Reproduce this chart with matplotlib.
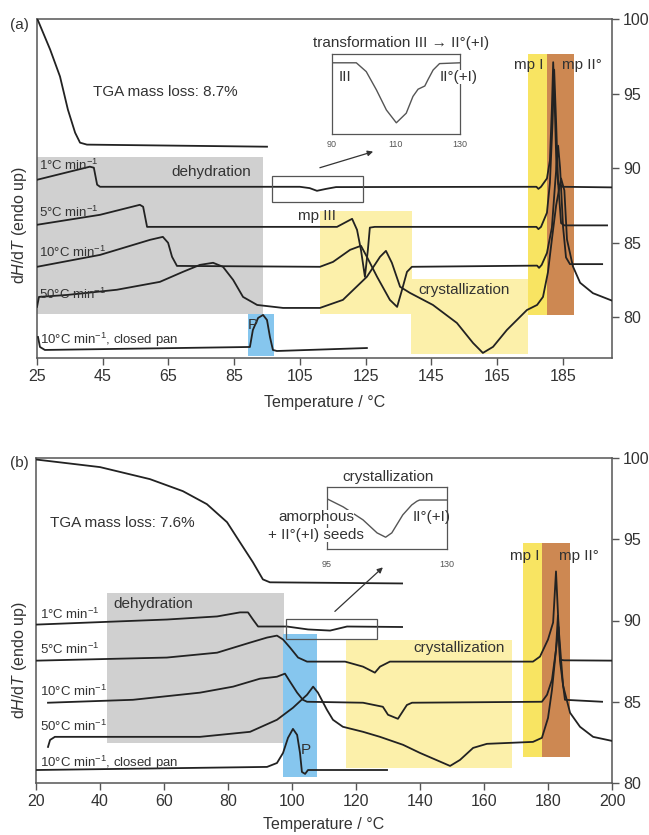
import matplotlib
matplotlib.use("Agg")
import matplotlib.pyplot as plt
from matplotlib.patches import Rectangle

plt.rcParams["font.family"] = ["Liberation Sans", "DejaVu Sans"]
plt.rcParams["mathtext.fontset"] = "custom"
plt.rcParams["mathtext.rm"] = "Liberation Sans"
plt.rcParams["mathtext.it"] = "Liberation Sans:italic"
plt.rcParams["mathtext.bf"] = "Liberation Sans:bold"

# ---- (a) TGA and DSC traces
tga_a_T = [25.0, 25.3, 29.0, 32.0, 34.4, 36.6, 38.1, 40.2, 95.0]
tga_a_y = [100.0, 99.9, 97.95, 96.14, 93.92, 92.37, 91.7, 91.57, 91.43]

dsc1_a_T = [25.0, 41.1, 42.3, 43.3, 44.2, 105.0, 108.0, 110.2, 113.0, 116.0, 177.0, 177.6,
            178.4, 180.2, 181.1, 181.7, 182.1, 182.6, 183.1, 183.7, 185.0, 200.0]
dsc1_a_y = [89.21, 90.09, 90.02, 88.88, 88.74, 88.74, 88.65, 88.47, 88.6, 88.72, 88.74, 88.6,
            88.74, 89.3, 90.5, 94.0, 97.1, 94.0, 90.0, 88.9, 88.74, 88.7]

dsc5_a_T = [25.0, 44.2, 56.3, 57.3, 58.5, 116.3, 119.7, 120.9, 122.4, 123.6, 124.8, 125.7,
            126.3, 127.8, 177.0, 177.6, 178.4, 180.2, 181.1, 181.9, 182.4, 183.0, 183.6,
            184.5, 185.5, 198.5]
dsc5_a_y = [86.19, 86.86, 87.53, 87.4, 86.05, 86.05, 86.45, 86.59, 85.85, 84.5, 82.7, 84.5,
            86.0, 86.05, 86.05, 85.9, 86.05, 87.0, 89.0, 93.0, 96.6, 93.0, 89.0,
            86.3, 86.15, 86.15]

dsc10_a_T = [25.0, 44.2, 59.4, 63.3, 64.9, 66.1, 67.6, 111.1, 115.1, 120.3, 123.6, 125.4,
             128.5, 132.4, 134.6, 136.1, 137.6, 139.1, 177.2, 177.8, 178.6, 180.2, 181.7,
             182.7, 183.6, 184.2, 185.1, 186.0, 187.2, 197.0]
dsc10_a_y = [83.37, 84.17, 85.18, 85.38, 84.98, 84.04, 83.43, 83.37, 83.70, 84.51, 84.78, 84.04,
             82.70, 81.15, 80.68, 81.83, 83.03, 83.37, 83.45, 83.3, 83.5, 84.3, 86.0,
             89.0, 91.5, 90.0, 86.05, 84.0, 83.55, 83.55]

dsc50_a_T = [25.0, 25.6, 34.1, 49.3, 62.4, 69.4, 74.6, 78.6, 81.6, 84.7, 87.7, 92.0, 99.9,
             111.1, 118.1, 125.4, 129.4, 131.2, 133.0, 135.5, 138.5, 145.5, 152.8, 157.7,
             160.7, 163.8, 168.0, 174.1, 177.2, 179.0, 180.5, 181.7, 183.0, 184.5, 185.5,
             186.3, 188.1, 190.3, 194.2, 200.0]
dsc50_a_y = [80.68, 81.35, 81.48, 81.83, 82.36, 83.03, 83.50, 83.64, 83.37, 82.49, 81.35, 80.81,
             80.61, 80.61, 81.15, 82.70, 84.04, 84.44, 83.64, 82.03, 81.62, 80.81, 79.60,
             78.26, 77.59, 78.0, 79.13, 80.47, 80.81, 81.35, 83.0, 85.2, 87.5, 89.3, 88.5,
             85.2, 83.4, 82.3, 81.6, 81.1]

pan_a_T = [25.3, 25.9, 27.4, 89.8, 90.7, 92.3, 93.8, 95.0, 95.9, 96.8, 98.0, 125.4]
pan_a_y = [78.66, 77.99, 77.79, 77.99, 79.13, 79.94, 80.14, 79.8, 78.66, 77.79, 77.72, 77.92]

ins_a_T = [90, 97.6, 100.7, 103.9, 107.0, 110.1, 113.2, 115.3, 116.9, 119.0, 120.0, 121.6,
           123.6, 130]
ins_a_y = [0.89, 0.89, 0.78, 0.55, 0.30, 0.14, 0.26, 0.47, 0.56, 0.60, 0.68, 0.80, 0.88, 0.89]

# shaded regions: T0, T1, y0, y1, colour
regions_a = [
    (25.0, 93.8, 80.2, 90.75, "#d0d0d0"),
    (89.2, 97.1, 77.4, 80.2, "#86c6ee"),
    (111.1, 139.1, 80.2, 87.13, "#fcf0aa"),
    (138.8, 174.4, 77.5, 82.56, "#fcf0aa"),
    (174.4, 180.2, 80.14, 97.68, "#f8e462"),
    (180.2, 188.4, 80.14, 97.68, "#cd8852"),
]

# ---- (b) TGA and DSC traces
tga_b_T = [20.3, 40.0, 55.6, 65.9, 73.4, 79.7, 83.75, 87.8, 90.9, 93.1, 134.4]
tga_b_y = [99.9, 99.44, 98.70, 97.96, 97.16, 96.05, 94.81, 93.58, 92.53, 92.35, 92.28]

dsc1_b_T = [20.3, 60.9, 76.6, 83.75, 86.25, 87.8, 89.4, 92.2, 98.4, 105.0, 111.9, 117.2, 134.4]
dsc1_b_y = [89.75, 90.06, 90.25, 90.5, 90.5, 90.06, 89.63, 89.63, 89.63, 89.45, 89.38, 89.63, 89.6]

dsc5_b_T = [20.3, 60.9, 76.6, 86.9, 92.2, 95.3, 97.2, 99.4, 101.9, 104.7, 116.6, 122.2, 125.9,
            127.5, 130.6, 175.3, 177.5, 180.0, 181.6, 182.5, 183.1, 183.75, 185.0, 200.0]
dsc5_b_y = [87.53, 87.72, 88.02, 88.64, 88.95, 89.07, 88.83, 88.33, 87.72, 87.47, 87.47, 87.16,
            86.79, 87.16, 87.47, 87.47, 87.78, 88.83, 89.88, 93.02, 90.5, 87.59, 87.55, 87.53]

dsc10_b_T = [23.75, 50.3, 71.25, 81.6, 90.0, 95.3, 97.8, 99.4, 101.6, 103.4, 104.7, 122.2,
             128.4, 130.0, 133.1, 135.9, 137.5, 178.1, 179.7, 181.25, 182.5, 183.1, 183.75,
             185.3, 196.9]
dsc10_b_y = [84.94, 85.12, 85.56, 85.93, 86.42, 86.54, 86.73, 86.23, 85.56, 85.12, 85.0, 84.94,
             84.69, 84.2, 83.95, 84.8, 84.94, 85.0, 85.43, 86.36, 88.21, 90.3, 87.5,
             85.12, 85.0]

dsc50_b_T = [23.75, 24.4, 25.9, 29.7, 71.25, 86.9, 95.3, 100.3, 104.7, 106.6, 108.1, 110.9,
             112.8, 115.9, 122.2, 127.5, 134.7, 140.0, 149.4, 152.5, 156.6, 160.9, 175.3,
             178.1, 180.0, 181.25, 182.5, 183.3, 184.7, 186.9, 190.0, 194.1, 200.0]
dsc50_b_y = [82.22, 82.65, 82.84, 82.84, 82.84, 83.15, 83.89, 84.63, 85.43, 85.93, 85.56, 84.51,
             83.89, 83.46, 83.15, 82.84, 82.35, 81.85, 81.05, 81.42, 82.16, 82.41, 82.53,
             82.78, 84.0, 85.74, 88.21, 89.6, 86.0, 84.32, 83.46, 82.84, 82.59]

pan_b_T = [20.3, 92.2, 95.3, 97.2, 98.75, 100.3, 101.6, 102.5, 103.1, 104.1, 105.0, 129.7]
pan_b_y = [80.8, 80.99, 81.23, 81.85, 82.78, 83.33, 82.96, 81.85, 80.68, 80.56, 80.8, 80.8]

ins_b_T = [95, 99.7, 105.5, 109.6, 112.1, 113.9, 117.1, 119.7, 121.2, 122, 130]
ins_b_y = [0.81, 0.68, 0.47, 0.26, 0.19, 0.26, 0.55, 0.71, 0.77, 0.79, 0.79]

regions_b = [
    (42.2, 97.5, 82.47, 91.67, "#d0d0d0"),
    (97.2, 107.8, 80.37, 89.14, "#86c6ee"),
    (116.9, 168.75, 80.93, 88.83, "#fcf0aa"),
    (172.2, 178.1, 81.6, 94.75, "#f8e462"),
    (178.1, 186.9, 81.6, 94.75, "#cd8852"),
]

y_ticks = [80, 85, 90, 95, 100]
x_ticks_a = [25, 45, 65, 85, 105, 125, 145, 165, 185]
x_ticks_b = [20, 40, 60, 80, 100, 120, 140, 160, 180, 200]

line_col = "#222222"
spine_col = "#555555"
rate_1 = "1°C min$^{-1}$"
rate_5 = "5°C min$^{-1}$"
rate_10 = "10°C min$^{-1}$"
rate_50 = "50°C min$^{-1}$"
rate_pan = "10°C min$^{-1}$, closed pan"

fig = plt.figure(figsize=(6.49, 8.35), dpi=100)


def setup_main(ax, xlim, ylim, xticks):
    ax.set_xlim(*xlim)
    ax.set_ylim(*ylim)
    ax.set_xticks(xticks)
    ax.set_yticks(y_ticks)
    ax.tick_params(axis="y", left=False, labelleft=False, right=True, labelright=True)
    ax.tick_params(direction="out", length=5, width=1.0, color=spine_col,
                   labelsize=11.5, labelcolor="#333333", pad=3)
    for s in ax.spines.values():
        s.set_color(spine_col)
        s.set_linewidth(1.1)


def draw_regions(ax, regions):
    for x0, x1, y0, y1, c in regions:
        ax.add_patch(Rectangle((x0, y0), x1 - x0, y1 - y0, facecolor=c,
                               edgecolor="none", zorder=0))


def draw_inset(rect, T, y, xlim, xticks):
    ia = fig.add_axes(rect)
    ia.plot(T, y, color="#555555", lw=1.0)
    ia.set_xlim(*xlim)
    ia.set_ylim(0, 1)
    ia.set_yticks([])
    ia.set_xticks(xticks)
    ia.tick_params(axis="x", length=0, labelsize=6.5, labelcolor="#555555", pad=5)
    for s in ia.spines.values():
        s.set_color("#555555")
        s.set_linewidth(0.9)
    return ia


txt = dict(color="#333333", fontsize=11)
small = dict(color="#333333", fontsize=9.5)

# ---------------- panel (a)
ax = fig.add_axes([37 / 649, 1 - 358 / 835, 575 / 649, 339 / 835])
setup_main(ax, (25, 200), (77.25, 100), x_ticks_a)
draw_regions(ax, regions_a)
for T, y in [(tga_a_T, tga_a_y), (dsc1_a_T, dsc1_a_y), (dsc5_a_T, dsc5_a_y),
             (dsc10_a_T, dsc10_a_y), (dsc50_a_T, dsc50_a_y), (pan_a_T, pan_a_y)]:
    ax.plot(T, y, color=line_col, lw=1.3, zorder=3)

ax.add_patch(Rectangle((96.5, 87.7), 124.2 - 96.5, 89.46 - 87.7, fill=False,
                       edgecolor="#555555", lw=0.9, zorder=4))
ax.annotate("", xy=(127.3, 91.1), xytext=(111.1, 90.02),
            arrowprops=dict(arrowstyle="-|>", color="#333333", lw=0.9,
                            mutation_scale=8, shrinkA=0, shrinkB=0))

ax.text(42.0, 95.13, "TGA mass loss: 8.7%", va="center", **txt)
ax.text(25.6, 90.2, rate_1, va="center", **small)
ax.text(78.0, 89.75, "dehydration", ha="center", va="center", **txt)
ax.text(25.6, 87.0, rate_5, va="center", **small)
ax.text(25.6, 84.37, rate_10, va="center", **small)
ax.text(25.6, 81.5, rate_50, va="center", **small)
ax.text(25.9, 78.46, rate_pan, va="center", **small)
ax.text(90.7, 79.47, "P", ha="center", va="center", **txt)
ax.text(110.1, 86.8, "mp III", ha="center", va="center", **txt)
ax.text(155.0, 81.83, "crystallization", ha="center", va="center", **txt)
ax.text(179.0, 96.94, "mp I", ha="right", va="center", **txt)
ax.text(184.8, 96.94, "mp II°", ha="left", va="center", **txt)
ax.set_xlabel("Temperature / °C", fontsize=11.5, color="#333333")
ax.xaxis.set_label_coords(0.5, -0.11)

ia = draw_inset([332 / 649, 1 - 134 / 835, 128 / 649, 80 / 835], ins_a_T, ins_a_y,
                (90, 130), [90, 110, 130])
ia.tick_params(axis="x", pad=4)
ia.text(0.54, 1.14, "transformation III → II°(+I)", transform=ia.transAxes,
        ha="center", va="center", **txt)
ia.text(0.05, 0.71, "III", transform=ia.transAxes, va="center", **txt)
ia.text(0.84, 0.71, "II°(+I)", transform=ia.transAxes, va="center", zorder=5,
        bbox=dict(facecolor="white", edgecolor="none", pad=0), **txt)

fig.text(0.015, 1 - 25 / 835, "(a)", va="center", **txt)
fig.text(20 / 649, 1 - 225 / 835, r"d$\it{H}$/d$\it{T}$ (endo up)", rotation=90,
         ha="center", va="center", color="#333333", fontsize=11.5)

# ---------------- panel (b)
bx = fig.add_axes([36 / 649, 1 - 783 / 835, 576 / 649, 325 / 835])
setup_main(bx, (20, 200), (80, 100), x_ticks_b)
draw_regions(bx, regions_b)
for T, y in [(tga_b_T, tga_b_y), (dsc1_b_T, dsc1_b_y), (dsc5_b_T, dsc5_b_y),
             (dsc10_b_T, dsc10_b_y), (dsc50_b_T, dsc50_b_y), (pan_b_T, pan_b_y)]:
    bx.plot(T, y, color=line_col, lw=1.3, zorder=3)

bx.add_patch(Rectangle((98.1, 88.89), 126.6 - 98.1, 90.12 - 88.89, fill=False,
                       edgecolor="#555555", lw=0.9, zorder=4))
bx.annotate("", xy=(128.4, 93.27), xytext=(113.4, 90.56),
            arrowprops=dict(arrowstyle="-|>", color="#333333", lw=0.9,
                            mutation_scale=8, shrinkA=0, shrinkB=0))

bx.text(24.4, 95.99, "TGA mass loss: 7.6%", va="center", **txt)
bx.text(21.25, 90.37, rate_1, va="center", **small)
bx.text(44.1, 90.99, "dehydration", va="center", **txt)
bx.text(21.25, 88.21, rate_5, va="center", **small)
bx.text(21.25, 85.62, rate_10, va="center", **small)
bx.text(21.25, 83.46, rate_50, va="center", **small)
bx.text(21.25, 81.23, rate_pan, va="center", **small)
bx.text(104.4, 82.04, "P", ha="center", va="center", **txt)
bx.text(152.3, 88.33, "crystallization", ha="center", va="center", **txt)
bx.text(177.5, 93.95, "mp I", ha="right", va="center", **txt)
bx.text(183.4, 93.95, "mp II°", ha="left", va="center", **txt)
bx.set_xlabel("Temperature / °C", fontsize=11.5, color="#333333")
bx.xaxis.set_label_coords(0.5, -0.105)

ib = draw_inset([327 / 649, 1 - 549 / 835, 120 / 649, 62 / 835], ins_b_T, ins_b_y,
                (95, 130), [95, 130])
ib.tick_params(axis="x", pad=8)
ib.text(0.51, 1.16, "crystallization", transform=ib.transAxes,
        ha="center", va="center", **txt)
ib.text(-0.09, 0.52, "amorphous", transform=ib.transAxes, ha="center", va="center",
        zorder=5, bbox=dict(facecolor="white", edgecolor="none", pad=0), **txt)
ib.text(-0.09, 0.23, "+ II°(+I) seeds", transform=ib.transAxes, ha="center", va="center",
        zorder=5, bbox=dict(facecolor="white", edgecolor="none", pad=0), **txt)
ib.text(0.71, 0.52, "II°(+I)", transform=ib.transAxes, va="center", **txt)

fig.text(0.015, 1 - 463 / 835, "(b)", va="center", **txt)
fig.text(20 / 649, 1 - 660 / 835, r"d$\it{H}$/d$\it{T}$ (endo up)", rotation=90,
         ha="center", va="center", color="#333333", fontsize=11.5)

fig.savefig("out.png", dpi=100)
